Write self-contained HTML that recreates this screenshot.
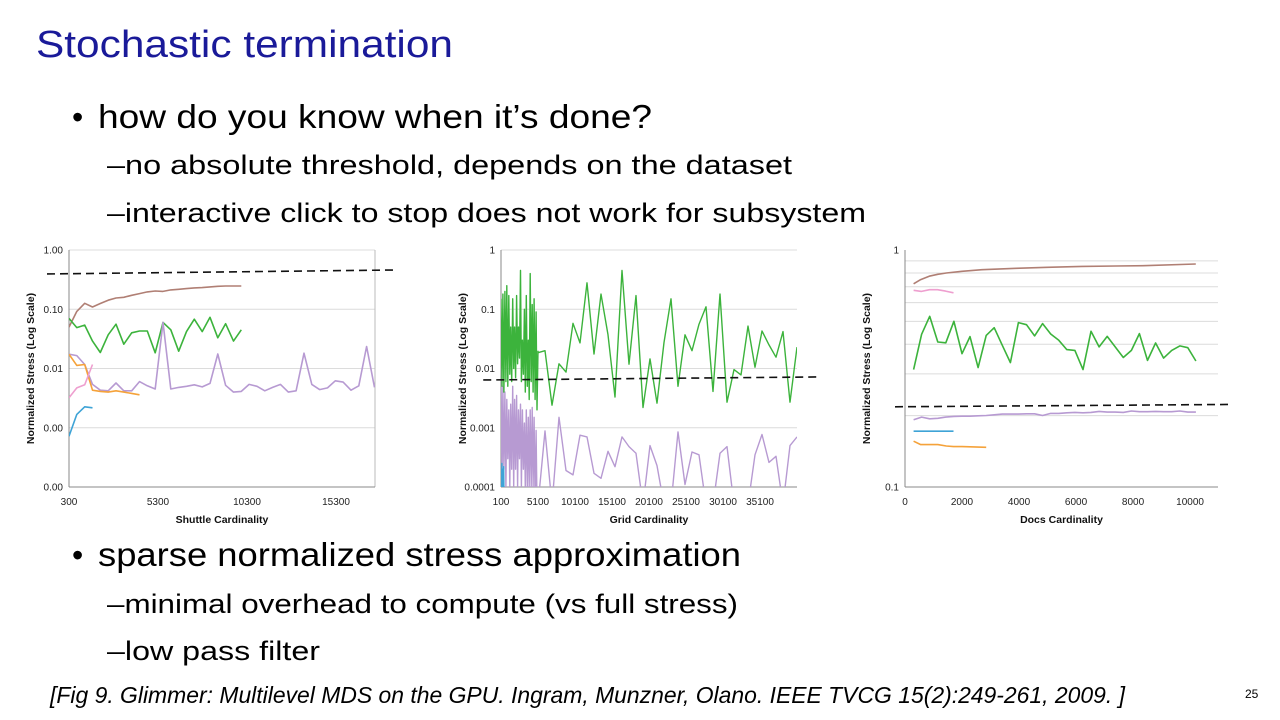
<!DOCTYPE html>
<html><head><meta charset="utf-8"><style>
html,body{margin:0;padding:0;background:#fff;}
svg{display:block;}
</style></head><body>
<svg id="slide" width="1280" height="720" viewBox="0 0 1280 720" xmlns="http://www.w3.org/2000/svg" font-family="'Liberation Sans', sans-serif">
<text x="36" y="57" font-size="38" fill="#1a1a99" textLength="417" lengthAdjust="spacingAndGlyphs">Stochastic termination</text>
<text x="72" y="128" font-size="32" fill="#000">•</text>
<text x="98" y="128" font-size="33" fill="#000" textLength="554" lengthAdjust="spacingAndGlyphs">how do you know when it’s done?</text>
<text x="107" y="174" font-size="27" fill="#000" textLength="685" lengthAdjust="spacingAndGlyphs">–no absolute threshold, depends on the dataset</text>
<text x="107" y="222" font-size="27" fill="#000" textLength="759" lengthAdjust="spacingAndGlyphs">–interactive click to stop does not work for subsystem</text>
<text x="72" y="566" font-size="32" fill="#000">•</text>
<text x="98" y="566" font-size="33" fill="#000" textLength="643" lengthAdjust="spacingAndGlyphs">sparse normalized stress approximation</text>
<text x="107" y="613" font-size="27" fill="#000" textLength="631" lengthAdjust="spacingAndGlyphs">–minimal overhead to compute (vs full stress)</text>
<text x="107" y="660" font-size="27" fill="#000" textLength="213" lengthAdjust="spacingAndGlyphs">–low pass filter</text>
<text x="50" y="703" font-size="23" font-style="italic" fill="#000" textLength="1075" lengthAdjust="spacingAndGlyphs">[Fig 9. Glimmer: Multilevel MDS on the GPU. Ingram, Munzner, Olano.  IEEE TVCG 15(2):249-261, 2009. ]</text>
<text x="1245" y="698" font-size="12" fill="#000">25</text>
<g id="charts"></g>
</svg>
<script>
// ---------- Chart 1: Shuttle ----------
const c1Ticks = [300, 5300, 10300, 15300];
const c1YTicks = [1, 0.1, 0.01, 0.001, 0.0001];
const c1YLabels = ["1.00", "0.10", "0.01", "0.00", "0.00"];
const c1Step = 440;
const c1Brown = [0.050,0.092,0.126,0.109,0.125,0.142,0.155,0.159,0.172,0.184,0.196,0.203,0.200,0.212,0.217,0.223,0.229,0.232,0.238,0.244,0.247,0.247,0.247];
const c1Green = [0.070,0.049,0.054,0.029,0.0186,0.037,0.056,0.0257,0.040,0.043,0.043,0.0184,0.060,0.045,0.0196,0.042,0.068,0.042,0.073,0.033,0.057,0.029,0.045];
const c1Purple = [0.0174,0.0165,0.0117,0.0054,0.0043,0.0042,0.0057,0.0042,0.0042,0.0060,0.0051,0.0045,0.060,0.0045,0.0048,0.0050,0.0053,0.0049,0.0056,0.0176,0.0052,0.0040,0.0041,0.0054,0.0050,0.0042,0.0048,0.0054,0.0040,0.0042,0.0181,0.0054,0.0044,0.0047,0.0062,0.0059,0.0043,0.0051,0.0235,0.0048];
const c1Orange = [0.0174,0.0113,0.0117,0.0043,0.0041,0.0040,0.0042,0.0040,0.0038,0.0036];
const c1Pink = [0.0032,0.0047,0.0053,0.0117];
const c1Blue = [0.00072,0.00168,0.00226,0.00217];
const c1Threshold = [[-936, 0.394], [18670, 0.46]];

// ---------- Chart 2: Grid ----------
const c2Ticks = [100, 5100, 10100, 15100, 20100, 25100, 30100, 35100];
const c2YTicks = [1, 0.1, 0.01, 0.001, 0.0001];
const c2YLabels = ["1", "0.1", "0.01", "0.001", "0.0001"];
const c2GreenDense = [0.15,0.005,0.18,0.004,0.2,0.006,0.25,0.005,0.17,0.008,0.05,0.006,0.15,0.01,0.05,0.007,0.17,0.012,0.05,0.015,0.45,0.006,0.03,0.008,0.1,0.004,0.17,0.005,0.03,0.003,0.4,0.006,0.12,0.004,0.15,0.003,0.09,0.002,0.02];
const c2PurpleDense = [0.01,0.0001,0.005,0.0002,0.004,0.0001,0.003,0.0003,0.002,0.0001,0.0025,0.0002,0.005,0.0001,0.003,0.0002,0.0035,0.0001,0.002,0.0003,0.0025,0.0001,0.002,0.0002,0.0012,0.0001,0.002,0.0001,0.0015,0.0001,0.002,0.0001,0.0022,0.0001,0.0015,0.00005,0.0009,0.00005,0.0001];
const c2BlueDense = [0.0002,0.00005,0.00025,0.00005,0.0002,0.00005,0.00022,0.00005];
const c2Green = [0.0185,0.020,0.0024,0.012,0.0087,0.058,0.027,0.28,0.0175,0.18,0.037,0.0033,0.45,0.0118,0.17,0.0022,0.0145,0.0026,0.0275,0.15,0.005,0.037,0.020,0.056,0.11,0.0041,0.18,0.0027,0.0096,0.0078,0.052,0.0105,0.043,0.025,0.0155,0.042,0.0027,0.023];
const c2Purple = [0.00005,0.00088,0.00005,0.0015,0.00019,0.00016,0.00075,0.0007,0.00017,0.00014,0.0004,0.00022,0.0007,0.00048,0.00037,0.00005,0.0005,0.00023,0.00005,0.00005,0.00085,0.00011,0.00039,0.00035,0.00005,0.00005,0.00037,0.00048,0.00005,0.00005,0.00005,0.00035,0.00077,0.00026,0.00033,0.00005,0.0005,0.0007];
const c2Threshold = [[-2300, 0.0064], [42700, 0.0072]];

// ---------- Chart 3: Docs ----------
const c3Ticks = [0, 2000, 4000, 6000, 8000, 10000];
const c3YTicks = [1, 0.1];
const c3YLabels = ["1", "0.1"];
const c3Grid = [0.9, 0.8, 0.7, 0.6, 0.5, 0.4, 0.3, 0.2];
const c3BrownX = [300,550,850,1150,1450,2000,2700,3900,5000,6200,7400,8500,10200];
const c3Brown = [0.72,0.75,0.775,0.79,0.80,0.813,0.826,0.837,0.845,0.853,0.856,0.859,0.873];
const c3Pink = [0.676,0.669,0.68,0.68,0.671,0.66];
const c3Green = [0.313,0.441,0.525,0.409,0.406,0.500,0.365,0.431,0.319,0.436,0.470,0.396,0.335,0.494,0.484,0.434,0.489,0.442,0.416,0.380,0.377,0.313,0.454,0.390,0.432,0.390,0.352,0.377,0.444,0.342,0.405,0.350,0.377,0.394,0.387,0.340];
const c3Purple = [0.1923,0.1973,0.194,0.195,0.1973,0.1985,0.199,0.199,0.1997,0.2003,0.2017,0.203,0.203,0.203,0.2037,0.2037,0.2003,0.2044,0.2044,0.2057,0.2064,0.2057,0.2064,0.2085,0.207,0.207,0.2064,0.2092,0.2078,0.2078,0.2085,0.2078,0.2078,0.2092,0.207,0.207];
const c3Blue = [0.172,0.172,0.172,0.172,0.172,0.172];
const c3OrangeX = [300,550,850,1150,1450,1700,2000,2850];
const c3Orange = [0.156,0.151,0.151,0.151,0.149,0.148,0.148,0.147];
const c3Threshold = [[-350, 0.218], [11400, 0.223]];

const NS = "http://www.w3.org/2000/svg";
const root = document.getElementById('charts');
function el(tag, attrs, parent) {
  const e = document.createElementNS(NS, tag);
  for (const k in attrs) e.setAttribute(k, attrs[k]);
  (parent || root).appendChild(e);
  return e;
}
function makeChart(cfg) {
  const g = el('g', {});
  
  
  const lx = Math.log10(1);
  const sx = v => cfg.L + (v - cfg.x0) / (cfg.x1 - cfg.x0) * (cfg.R - cfg.L);
  const ly0 = Math.log10(cfg.yMax), ly1 = Math.log10(cfg.yMin);
  const sy = v => cfg.T + (ly0 - Math.log10(v)) / (ly0 - ly1) * (cfg.B - cfg.T);
  const clipId = 'clip-' + cfg.name;
  const cp = el('clipPath', {id: clipId}, g);
  el('rect', {x: cfg.L, y: cfg.T - 1, width: cfg.R - cfg.L, height: cfg.B - cfg.T + 1}, cp);
  // gridlines
  (cfg.grid || cfg.yTicks).forEach(v => {
    const ln = el('line', {x1: cfg.L, x2: cfg.R, y1: sy(v), y2: sy(v), stroke: '#dcdcdc', 'stroke-width': 1}, g);
    
    
  });
  if (cfg.frame) el('line', {x1: cfg.R, x2: cfg.R, y1: cfg.T, y2: cfg.B, stroke: '#bbb'}, g);
  // axes
  const ya = el('line', {x1: cfg.L, x2: cfg.L, y1: cfg.T, y2: cfg.B, stroke: '#888', 'stroke-width': 1}, g);
  
  
  const xa = el('line', {x1: cfg.L, x2: cfg.R, y1: cfg.B, y2: cfg.B, stroke: '#888', 'stroke-width': 1}, g);
  
  
  cfg.yTicks.forEach((v, i) => {
    const t = el('text', {x: cfg.L - 6, y: sy(v) + 3.5, 'font-size': 10, 'text-anchor': 'end', fill: '#222'}, g);
    t.textContent = cfg.yLabels[i];
    
    
  });
  cfg.xTicks.forEach(v => {
    const t = el('text', {x: sx(v), y: cfg.B + 18, 'font-size': 10, 'text-anchor': 'middle', fill: '#222'}, g);
    t.textContent = String(v);
    
    
  });
  const xt = el('text', {x: (cfg.L + cfg.R) / 2, y: cfg.B + 36, 'font-size': 10.5, 'font-weight': 'bold', 'text-anchor': 'middle', fill: '#111'}, g);
  xt.textContent = cfg.xTitle;
  
  
  const cy = (cfg.T + cfg.B) / 2, cx = cfg.L - 35;
  const yt = el('text', {x: cx, y: cy, 'font-size': 10.5, 'font-weight': 'bold', 'text-anchor': 'middle', fill: '#111', transform: `rotate(-90 ${cx} ${cy})`}, g);
  yt.textContent = 'Normalized Stress (Log Scale)';
  
  
  const sg = el('g', {'clip-path': `url(#${clipId})`}, g);
  cfg.series.forEach(s => {
    const pts = s.vals.map((v, i) => {
      const x = s.xs ? s.xs[i] : s.start + i * s.step;
      return sx(x).toFixed(1) + ',' + sy(v).toFixed(1);
    }).join(' ');
    const p = el('polyline', {points: pts, fill: 'none', stroke: s.color, 'stroke-width': s.w || 1.6, 'stroke-linejoin': 'round'}, sg);
    
    
  });
  const th = cfg.threshold;
  const d = el('line', {x1: sx(th[0][0]), y1: sy(th[0][1]), x2: sx(th[1][0]), y2: sy(th[1][1]), stroke: '#111', 'stroke-width': 1.6, 'stroke-dasharray': '8,5'}, g);
  
  
}
const BROWN = '#b07f74', GREEN = '#3cb33c', PURPLE = '#b79ad2', ORANGE = '#f5a23a', PINK = '#ee9fcf', BLUE = '#3ea3d6';
makeChart({name: 'shuttle-chart', L: 69, R: 375, T: 250, B: 487, x0: 300, x1: 17490, yMax: 1, yMin: 0.0001, frame: true,
  xTicks: c1Ticks, yTicks: c1YTicks, yLabels: c1YLabels, xTitle: 'Shuttle Cardinality', threshold: c1Threshold,
  series: [
    {name: 'series-brown', vals: c1Brown, start: 300, step: c1Step, color: BROWN},
    {name: 'series-green', vals: c1Green, start: 300, step: c1Step, color: GREEN},
    {name: 'series-purple', vals: c1Purple, start: 300, step: c1Step, color: PURPLE},
    {name: 'series-orange', vals: c1Orange, start: 300, step: c1Step, color: ORANGE},
    {name: 'series-pink', vals: c1Pink, start: 300, step: c1Step, color: PINK},
    {name: 'series-blue', vals: c1Blue, start: 300, step: c1Step, color: BLUE}]});
makeChart({name: 'grid-chart', L: 501, R: 797, T: 250, B: 487, x0: 100, x1: 40100, yMax: 1, yMin: 0.0001,
  xTicks: c2Ticks, yTicks: c2YTicks, yLabels: c2YLabels, xTitle: 'Grid Cardinality', threshold: c2Threshold,
  series: [
    {name: 'series-purple-dense', vals: c2PurpleDense, start: 100, step: 5000 / 38, color: PURPLE, w: 1.4},
    {name: 'series-purple', vals: c2Purple, start: 5100, step: 35000 / 37, color: PURPLE, w: 1.4},
    {name: 'series-blue', vals: c2BlueDense, start: 100, step: 60, color: BLUE, w: 1.4},
    {name: 'series-green-dense', vals: c2GreenDense, start: 100, step: 5000 / 38, color: GREEN, w: 1.4},
    {name: 'series-green', vals: c2Green, start: 5100, step: 35000 / 37, color: GREEN, w: 1.4}]});
makeChart({name: 'docs-chart', L: 905, R: 1218, T: 250, B: 487, x0: 0, x1: 10980, yMax: 1, yMin: 0.1, grid: c3Grid,
  xTicks: c3Ticks, yTicks: c3YTicks, yLabels: c3YLabels, xTitle: 'Docs Cardinality', threshold: c3Threshold,
  series: [
    {name: 'series-brown', vals: c3Brown, xs: c3BrownX, color: BROWN},
    {name: 'series-pink', vals: c3Pink, start: 300, step: 280, color: PINK},
    {name: 'series-green', vals: c3Green, start: 300, step: 283, color: GREEN},
    {name: 'series-purple', vals: c3Purple, start: 300, step: 283, color: PURPLE},
    {name: 'series-blue', vals: c3Blue, start: 300, step: 280, color: BLUE},
    {name: 'series-orange', vals: c3Orange, xs: c3OrangeX, color: ORANGE}]});
</script>
</body></html>
